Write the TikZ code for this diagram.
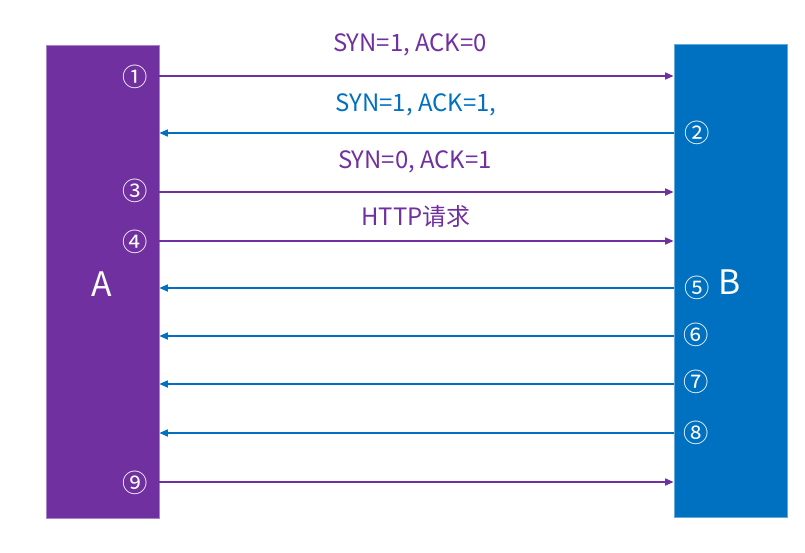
\documentclass[tikz,border=0pt]{standalone}
\usepackage{fontspec}
\setmainfont{Noto Sans CJK SC}
\usetikzlibrary{arrows.meta,positioning}
\definecolor{tkPurple}{RGB}{112,48,160}
\definecolor{tkBlue}{RGB}{0,112,192}

\begin{document}
\begin{tikzpicture}[x=0.025cm, y=-0.025cm,
  host/.style={draw=#1!60!white, line width=0.6pt, fill=#1, minimum width=2.825cm, minimum height=11.825cm, inner sep=0pt},
  msg/.style={draw=#1, line width=1.1pt, -{Triangle[length=6pt,width=5pt]}},
  num/.style={text=white, inner sep=0pt, font=\fontsize{18}{18}\selectfont},
  lab/.style={text=#1, inner sep=0pt, font=\fontsize{17}{17}\selectfont},
  big/.style={text=white, inner sep=0pt, font=\fontsize{24}{24}\selectfont}]
\useasboundingbox (0,0) rectangle (805,553);
% 两端主机
\node[host=tkPurple] (A) at (102.5,281.5) {};
\node[host=tkBlue]   (B) at (730.5,281) {};
\node[big] (nameA) at (102,284) {A};
\node[big] (nameB) at (730,282) {B};
% A -> B
\foreach \n/\y in {1/76,3/192,4/241,9/482}{
  \coordinate (a\n) at (A.east |- 0,\y);
  \coordinate (b\n) at (B.west |- 0,\y);
  \draw[msg=tkPurple] (a\n) -- (b\n);
}
% B -> A
\foreach \n/\y in {2/133,5/288,6/336,7/384,8/433}{
  \coordinate (a\n) at (A.east |- 0,\y);
  \coordinate (b\n) at (B.west |- 0,\y);
  \draw[msg=tkBlue] (b\n) -- (a\n);
}
% 序号
\node[num] (n1) at (135,77) {①};
\node[num] (n2) at (697,133) {②};
\node[num] (n3) at (135,191) {③};
\node[num] (n4) at (135,242) {④};
\node[num] (n5) at (697,288) {⑤};
\node[num] (n6) at (696,335) {⑥};
\node[num] (n7) at (696,382) {⑦};
\node[num] (n8) at (696,433) {⑧};
\node[num] (n9) at (135,483) {⑨};
% 报文说明
\node[lab=tkPurple] (l1) at (410,45) {SYN=1, ACK=0};
\node[lab=tkBlue]   (l2) at (416,105) {SYN=1, ACK=1,};
\node[lab=tkPurple] (l3) at (415,162) {SYN=0, ACK=1};
\node[lab=tkPurple] (l4) at (416,216) {HTTP请求};
\end{tikzpicture}
\end{document}
